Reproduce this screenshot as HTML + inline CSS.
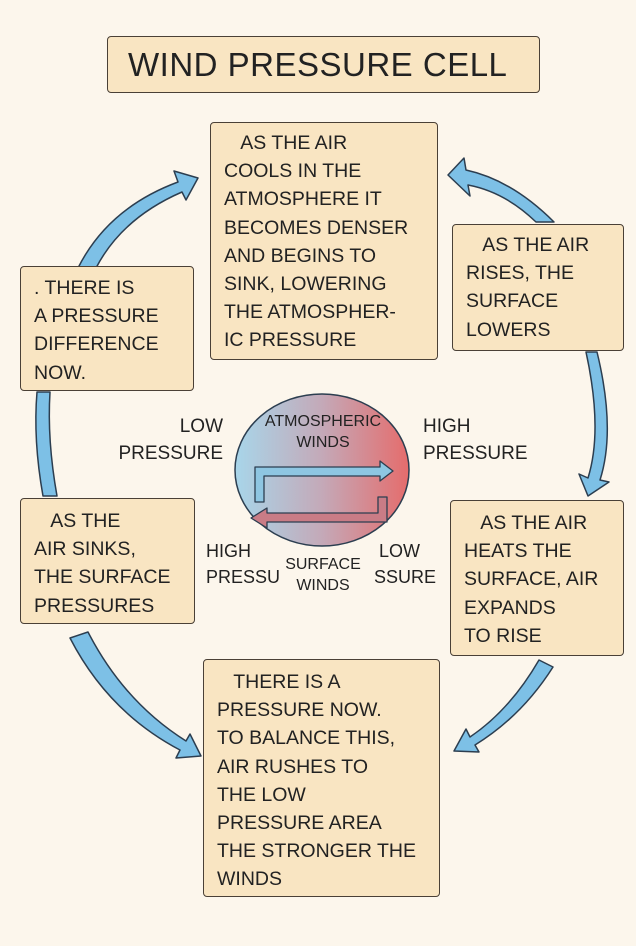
<!DOCTYPE html>
<html><head><meta charset="utf-8"><style>
body{margin:0;width:636px;height:946px;background:#fcf6ec;position:relative;overflow:hidden;font-family:"Liberation Sans","DejaVu Sans",sans-serif;color:#222;}
.b{position:absolute;background:#f9e5c2;border:1.5px solid #4a4036;border-radius:4px;box-sizing:border-box;font-size:19.5px;line-height:28.2px;letter-spacing:0px;padding-left:13px;}
.t{position:absolute;font-size:19px;line-height:27px;letter-spacing:0px;}
svg{position:absolute;left:0;top:0}
</style></head><body>
<svg width="636" height="946">
<defs>
<linearGradient id="g" x1="0" x2="1" y1="0" y2="0">
<stop offset="0" stop-color="#a8d6ea"/><stop offset="0.5" stop-color="#c4a9b8"/><stop offset="1" stop-color="#e56c6c"/></linearGradient>
</defs>
<g fill="#7dc0e6" stroke="#2c3e50" stroke-width="1.5" stroke-linejoin="round">
<path d="M78,268 Q108,208 178,182 L174,171 L198,178 L186,200 L182,192 Q122,218 96,268 Z"/>
<path d="M536,222 Q505,192 468,185 L470,196 L448,175 L464,158 L466,170 Q512,180 554,222 Z"/>
<path d="M597,352 Q616,430 600,480 L609,482 L588,496 L579,474 L588,478 Q603,430 586,352 Z"/>
<path d="M37,392 Q33,440 43,496 L57,496 Q47,440 50,392 Z"/>
<path d="M70,638 Q108,712 180,750 L176,758 L201,756 L190,734 L186,741 Q124,702 88,632 Z"/>
<path d="M539,660 Q510,710 470,737 L466,729 L454,751 L479,752 L475,745 Q522,716 553,667 Z"/>
</g>
<ellipse cx="322" cy="470" rx="87" ry="76" fill="url(#g)" stroke="#2c3e50" stroke-width="1.5"/>
<g fill="#7dc0e6" stroke="#2c3e50" stroke-width="1.3" stroke-linejoin="round">
<path d="M255,502 L255,467 L380,467 L380,461 L393,471 L380,481 L380,476 L264,476 L264,502 Z" fill="#8ec6e2"/>
<path d="M387,497 L387,522 L267,522 L267,528 L251,518 L267,508 L267,513 L378,513 L378,497 Z" fill="#c97c86"/>
</g>
</svg>
<div class="b" style="left:107px;top:36px;width:433px;height:57px;font-size:33px;line-height:55px;padding-left:20px;letter-spacing:0.5px;">WIND PRESSURE CELL</div>
<div class="b" style="left:210px;top:122px;width:228px;height:238px;padding-top:6px;">&nbsp;&nbsp;&nbsp;AS THE AIR<br>COOLS IN THE<br>ATMOSPHERE IT<br>BECOMES DENSER<br>AND BEGINS TO<br>SINK, LOWERING<br>THE ATMOSPHER-<br>IC PRESSURE</div>
<div class="b" style="left:452px;top:224px;width:172px;height:127px;padding-top:6px;">&nbsp;&nbsp;&nbsp;AS THE AIR<br>RISES, THE<br>SURFACE<br>LOWERS</div>
<div class="b" style="left:20px;top:266px;width:174px;height:125px;padding-top:7px;">. THERE IS<br>A PRESSURE<br>DIFFERENCE<br>NOW.</div>
<div class="b" style="left:20px;top:498px;width:175px;height:126px;padding-top:8px;">&nbsp;&nbsp;&nbsp;AS THE<br>AIR SINKS,<br>THE SURFACE<br>PRESSURES</div>
<div class="b" style="left:450px;top:500px;width:174px;height:156px;padding-top:8px;">&nbsp;&nbsp;&nbsp;AS THE AIR<br>HEATS THE<br>SURFACE, AIR<br>EXPANDS<br>TO RISE</div>
<div class="b" style="left:203px;top:659px;width:237px;height:238px;padding-top:8px;">&nbsp;&nbsp;&nbsp;THERE IS A<br>PRESSURE NOW.<br>TO BALANCE THIS,<br>AIR RUSHES TO<br>THE LOW<br>PRESSURE AREA<br>THE STRONGER THE<br>WINDS</div>
<div class="t" style="left:113px;top:413px;width:110px;text-align:right;">LOW<br>PRESSURE</div>
<div class="t" style="left:423px;top:413px;">HIGH<br>PRESSURE</div>
<div class="t" style="left:253px;top:411px;width:140px;text-align:center;font-size:16px;line-height:21px;">ATMOSPHERIC<br>WINDS</div>
<div class="t" style="left:206px;top:538px;font-size:18px;line-height:26px;">HIGH<br>PRESSU</div>
<div class="t" style="left:283px;top:554px;width:80px;text-align:center;font-size:16px;line-height:21px;">SURFACE<br>WINDS</div>
<div class="t" style="left:374px;top:538px;font-size:18px;line-height:26px;">&nbsp;LOW<br>SSURE</div>
</body></html>
